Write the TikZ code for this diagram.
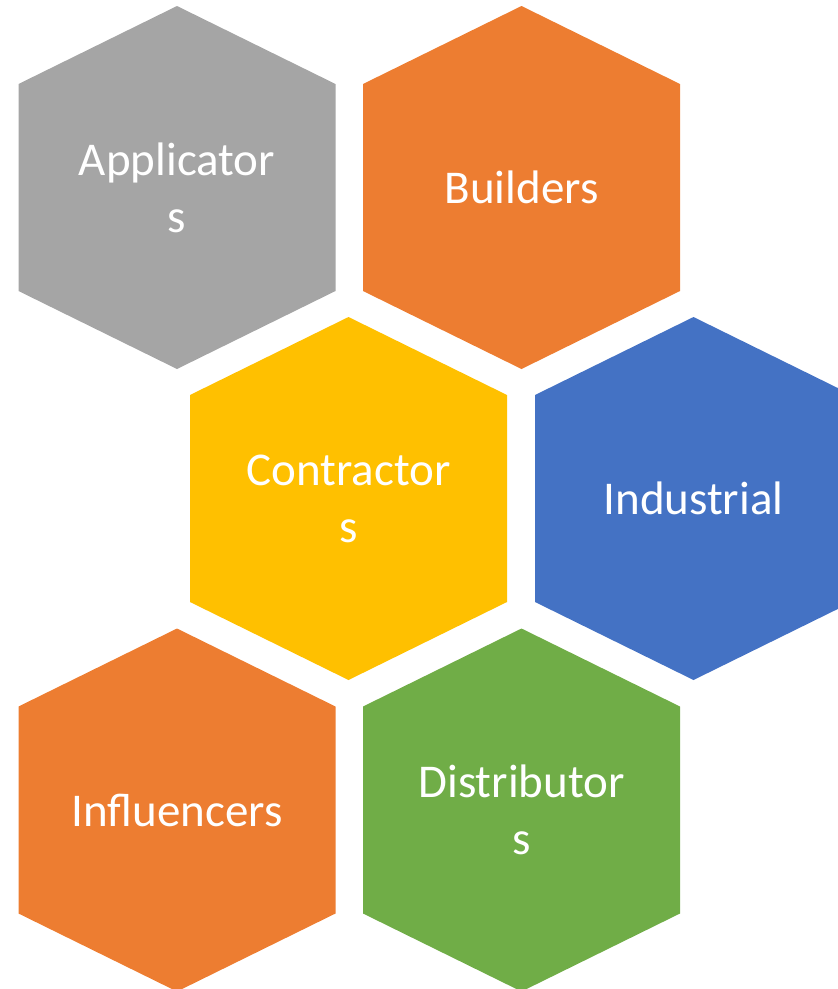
\documentclass[tikz,border=0pt]{standalone}
\usepackage{fontspec}
\setmainfont{Carlito}
\definecolor{hexgray}{HTML}{A5A5A5}
\definecolor{hexorange}{HTML}{ED7D31}
\definecolor{hexyellow}{HTML}{FFC000}
\definecolor{hexblue}{HTML}{4472C4}
\definecolor{hexgreen}{HTML}{70AD47}
% one cell: centre x, centre y, fill colour
\newcommand{\hexcell}[3]{\fill[#3] (#1,#2) ++(0,-181.5) -- ++(158.5,78) -- ++(0,207) -- ++(-158.5,78) -- ++(-158.5,-78) -- ++(0,-207) -- cycle;}
\begin{document}
\begin{tikzpicture}[x=1pt, y=-1pt, hexlabel/.style={text=white, align=center, inner sep=0pt, font=\fontsize{47}{57}\selectfont}]
  \clip (0,0) rectangle (838,989);
  \hexcell{177}{187.5}{hexgray}
  \hexcell{521.5}{187.5}{hexorange}
  \hexcell{348.5}{498.5}{hexyellow}
  \hexcell{693.5}{498.5}{hexblue}
  \hexcell{177}{810}{hexorange}
  \hexcell{521.5}{810}{hexgreen}
  \node [hexlabel] (applicators) at (177,187.5) {Applicator\\s};
  \node [hexlabel] (builders) at (521.5,187.5) {Builders};
  \node [hexlabel] (contractors) at (348.5,498.5) {Contractor\\s};
  \node [hexlabel] (industrial) at (693.5,498.5) {Industrial};
  \node [hexlabel] (influencers) at (177,810) {Influencers};
  \node [hexlabel] (distributors) at (521.5,810) {Distributor\\s};
\end{tikzpicture}
\end{document}
